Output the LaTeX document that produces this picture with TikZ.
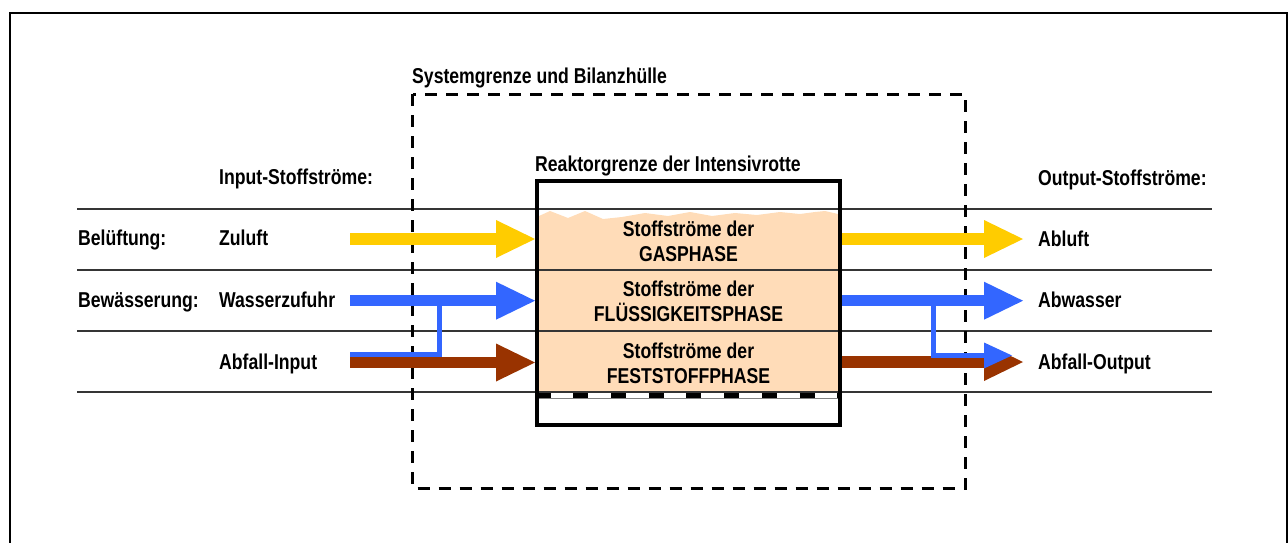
\documentclass[tikz,border=0pt]{standalone}
\usepackage{fontspec}
\setmainfont{Liberation Sans}[FakeStretch=0.82]
\usetikzlibrary{arrows.meta,positioning}
\definecolor{cGas}{HTML}{FFCC00}
\definecolor{cWater}{HTML}{3366FF}
\definecolor{cSolid}{HTML}{993300}
\definecolor{cPeach}{HTML}{FFDCB8}
\definecolor{cInk}{HTML}{111111}
\tikzset{
  lbl/.style={anchor=base west, inner sep=0pt, font=\fontsize{21.5}{25}\selectfont\bfseries},
  phase/.style={align=center, inner sep=0pt, font=\fontsize{21.5}{25}\selectfont\bfseries},
  rowline/.style={line width=1.4pt, draw=cInk!85},
  stream/.style={-{Triangle[length=39pt,width=38pt,line width=0pt]}, line width=11.5pt, draw=#1},
  branch/.style={line width=5pt, draw=cWater},
  branchtip/.style={branch, -{Triangle[length=28pt,width=26pt,line width=0pt]}},
  sysb/.style={line width=3pt, dash pattern=on 12pt off 9pt},
  reactorbox/.style={draw, line width=4pt, minimum width=303pt, minimum height=244pt, inner sep=0pt},
}
\begin{document}
\begin{tikzpicture}[x=1pt,y=-1pt]
\useasboundingbox (0,0) rectangle (1288,543);
% outer frame
\draw[line width=2.8pt] (10,546) -- (10,13) -- (1287,13) -- (1287,546);
% peach content of the reactor
\fill[cPeach] (539,216) -- (550,211) -- (568,218) -- (585,211) -- (603,219) -- (622,217)
  -- (645,213) -- (668,216) -- (690,212) -- (712,216) -- (735,213) -- (757,215)
  -- (780,212) -- (800,214) -- (815,212) -- (825,211) -- (838,214) -- (838,392) -- (539,392) -- cycle;
\foreach \y in {209,270,331,392}
  \draw[rowline] (77,\y) -- (1212,\y);
% grate at the bottom
\fill[white] (539,393) rectangle (838,398.5);
\draw[gray, line width=0.8pt] (539,398.5) -- (838,398.5);
\draw[line width=5pt, dash pattern=on 15pt off 22.7pt, dash phase=3.4pt] (539,395.8) -- (838,395.8);
\node[reactorbox] (reactor) at (688.5,303) {};
\draw[sysb] (412.5,94) rectangle (965,488);
\node[lbl] (sysLbl) at (412,83.3) {Systemgrenze und Bilanzhülle};
\node[lbl] (reaLbl) at (535,171.7) {Reaktorgrenze der Intensivrotte};
% phases
\node[phase] (gas) at (688.5,241.3) {Stoffströme der\\GASPHASE};
\node[phase] (liq) at (688.5,301.3) {Stoffströme der\\FLÜSSIGKEITSPHASE};
\node[phase] (sol) at (688.5,363) {Stoffströme der\\FESTSTOFFPHASE};
% labels
\node[lbl] (inHead) at (219,184.5) {Input-Stoffströme:};
\node[lbl] (belLbl) at (78,245.5) {Belüftung:};
\node[lbl] (zuLbl) at (219,245.5) {Zuluft};
\node[lbl] (bewLbl) at (78,307.5) {Bewässerung:};
\node[lbl] (wzLbl) at (219,307.5) {Wasserzufuhr};
\node[lbl] (afInLbl) at (219,369) {Abfall-Input};
\node[lbl] (outHead) at (1038,185) {Output-Stoffströme:};
\node[lbl] (ablLbl) at (1038,246) {Abluft};
\node[lbl] (abwLbl) at (1038,307.5) {Abwasser};
\node[lbl] (afOutLbl) at (1038,369) {Abfall-Output};
% input streams
\coordinate (zuIn) at (350,239);
\coordinate (wzIn) at (350,300.7);
\coordinate (afIn) at (350,362.5);
\coordinate (brIn) at (350,354);
\draw[branch] (brIn) -| ([xshift=89pt]wzIn);
\draw[stream=cGas] (zuIn) -- (zuIn -| reactor.west);
\draw[stream=cWater] (wzIn) -- (wzIn -| reactor.west);
\draw[stream=cSolid] (afIn) -- (afIn -| reactor.west);
% output streams
\coordinate (ablTip) at (1023,239);
\coordinate (abwTip) at (1023,300.7);
\coordinate (afOutTip) at (1023,362);
\draw[stream=cGas] (ablTip -| reactor.east) -- (ablTip);
\draw[stream=cWater] (abwTip -| reactor.east) -- (abwTip);
\draw[stream=cSolid] (afOutTip -| reactor.east) -- (afOutTip);
\coordinate (brOut) at (933,300.7);
\coordinate (brTip) at (1012,355.5);
\draw[branchtip] (brOut) |- (brTip);
\end{tikzpicture}
\end{document}
